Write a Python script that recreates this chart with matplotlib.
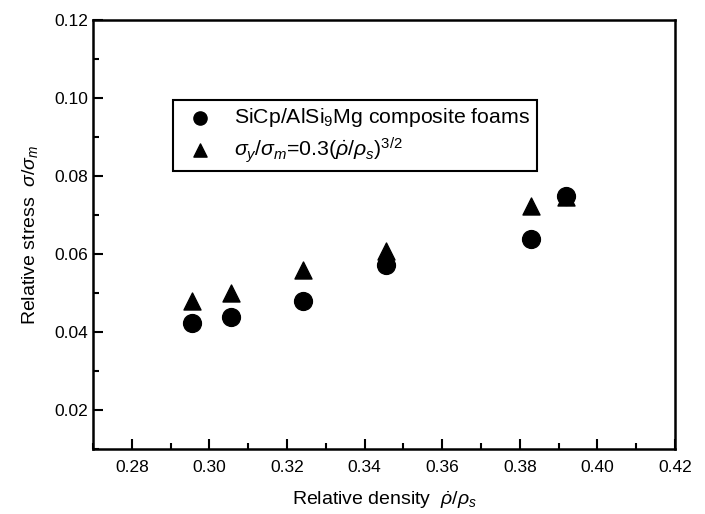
import matplotlib
matplotlib.use('Agg')
import matplotlib.pyplot as plt
from matplotlib.ticker import MultipleLocator

plt.rcParams['font.family'] = ['Liberation Sans', 'DejaVu Sans']
plt.rcParams['mathtext.fontset'] = 'custom'
plt.rcParams['mathtext.rm'] = 'Liberation Sans'
plt.rcParams['mathtext.it'] = 'Liberation Sans:italic'

# data
density = [0.2955, 0.3055, 0.3240, 0.3455, 0.3828, 0.3918]
stress_exp = [0.0423, 0.0438, 0.0479, 0.0573, 0.0639, 0.0749]
stress_model = [0.0480, 0.0500, 0.0558, 0.0607, 0.0722, 0.0745]

label_exp = r'SiCp/AlSi$_9$Mg composite foams'
label_model = r'$\sigma_y/\sigma_m$=0.3($\dot{\rho}/\rho_s$)$^{3/2}$'

fig = plt.figure(figsize=(7.05, 5.14), dpi=100)
ax = fig.add_axes([93/705, 1 - 449/514, 582/705, 429/514])

ax.scatter(density, stress_exp, marker='o', s=165, color='black', label=label_exp, zorder=3)
ax.scatter(density, stress_model, marker='^', s=150, color='black', label=label_model, zorder=3)

ax.set_xlim(0.27, 0.42)
ax.set_ylim(0.01, 0.12)
ax.xaxis.set_major_locator(MultipleLocator(0.02))
ax.xaxis.set_minor_locator(MultipleLocator(0.01))
ax.yaxis.set_major_locator(MultipleLocator(0.02))
ax.yaxis.set_minor_locator(MultipleLocator(0.01))
ax.tick_params(which='both', direction='in', labelsize=12.5, width=1.5)
ax.tick_params(which='major', length=7)
ax.tick_params(which='minor', length=4)
ax.tick_params(axis='x', pad=8)
for s in ax.spines.values():
    s.set_linewidth(1.8)

ax.set_xlabel(r'Relative density  $\dot{\rho}/\rho_s$', fontsize=14, labelpad=10)
ax.set_ylabel(r'Relative stress  $\sigma/\sigma_m$', fontsize=14, labelpad=10)

leg = ax.legend(loc='upper left', bbox_to_anchor=(0.137, 0.814), borderaxespad=0,
                fontsize=15.3, frameon=True, fancybox=False, edgecolor='black',
                framealpha=1, handletextpad=0.6, borderpad=0.3, labelspacing=0.28,
                scatterpoints=1)
leg.get_frame().set_linewidth(1.5)
for h in leg.legend_handles:
    h.set_sizes([90])

plt.savefig('out.png', dpi=100)
